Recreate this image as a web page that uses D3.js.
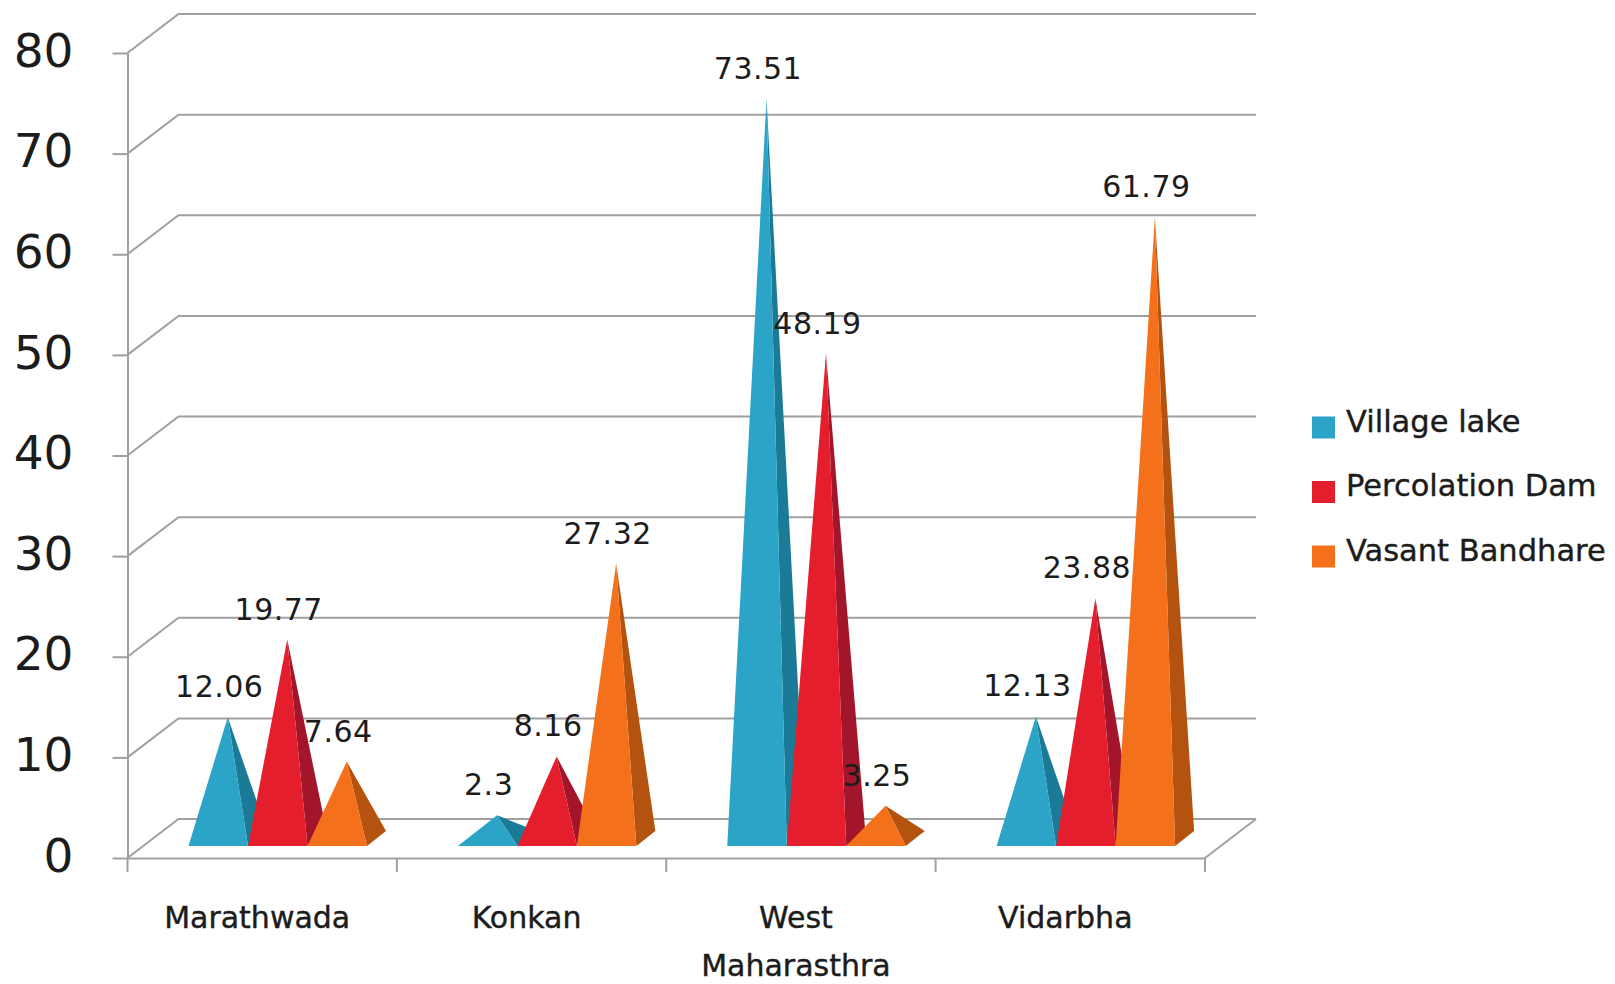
<!DOCTYPE html>
<html>
<head>
<meta charset="utf-8">
<script src="https://cdn.jsdelivr.net/npm/d3@7"></script>
<style>
  html, body { margin: 0; padding: 0; background: #fff; }
  svg { display: block; }
  text { font-family: "DejaVu Sans", sans-serif; fill: #1c1c1c; }
  .heavy { stroke: #1c1c1c; stroke-width: 0.4px; }
</style>
</head>
<body>
<svg id="chart"></svg>
<script>
// Data
const categories = ["Marathwada", "Konkan", "West", "Vidarbha"];
const seriesNames = ["Village lake", "Percolation Dam", "Vasant Bandhare"];
const villageLake = [12.06, 2.3, 73.51, 12.13];
const percolationDam = [19.77, 8.16, 48.19, 23.88];
const vasantBandhare = [7.64, 27.32, 3.25, 61.79];
const yTicks = [0, 10, 20, 30, 40, 50, 60, 70, 80];
const axisTitle = "Maharasthra";

const seriesValues = [villageLake, percolationDam, vasantBandhare];
const frontColors = ["#2ba4c7", "#e41e2d", "#f5701a"];
const sideColors = ["#1b7b97", "#a3152a", "#b4530f"];

const width = 1615, height = 984;
const plot = { left: 127.5, right: 1205, top: 53, bottom: 858 };
const depth = { dx: 51, dy: -39 };      // offset of the back wall
const inset = { front: 12, dx: 19, dy: -15 }; // where the pyramids sit on the floor

const svg = d3.select("#chart").attr("width", width).attr("height", height);

// Scales
const x = d3.scaleBand().domain(categories).range([plot.left, plot.right]);
const y = d3.scaleLinear().domain([0, 80]).range([plot.bottom, plot.top]);
const xSeries = d3.scaleBand().domain(seriesNames)
  .range([61, 61 + 178.5]);

// Walls and grid lines
const grid = svg.append("g")
  .attr("fill", "none")
  .attr("stroke", "#a0a0a0")
  .attr("stroke-width", 2);

yTicks.forEach(t => {
  const py = y(t);
  grid.append("polyline")
    .attr("points", [
      [plot.left, py],
      [plot.left + depth.dx, py + depth.dy],
      [plot.right + depth.dx, py + depth.dy]
    ].join(" "));
});

// Floor edge on the right
grid.append("polyline")
  .attr("points", [
    [plot.right, plot.bottom],
    [plot.right + depth.dx, plot.bottom + depth.dy]
  ].join(" "));

// Axes
const yAxis = svg.append("g")
  .attr("transform", `translate(${plot.left},0)`)
  .call(d3.axisLeft(y).tickValues(yTicks).tickSize(15).tickSizeOuter(0).tickPadding(39));

const xAxis = svg.append("g")
  .attr("transform", `translate(0,${plot.bottom})`)
  .call(d3.axisBottom(x).tickSize(0).tickFormat(""));

xAxis.selectAll(".tick").remove();
[...categories.map(c => x(c)), plot.right].forEach(px => {
  xAxis.append("line")
    .attr("x1", px).attr("x2", px)
    .attr("y1", 0).attr("y2", 14);
});

svg.selectAll(".domain, .tick line, g line")
  .attr("stroke", "#a0a0a0")
  .attr("stroke-width", 2);

yAxis.selectAll(".tick text")
  .attr("dy", "0.28em")
  .style("font-size", "47px")
  .attr("fill", "#1c1c1c");

// Category labels and axis title
svg.append("g").selectAll("text")
  .data(categories)
  .join("text")
  .attr("class", "heavy")
  .attr("x", d => x(d) + x.bandwidth() / 2 - 5)
  .attr("y", 928)
  .attr("text-anchor", "middle")
  .style("font-size", "30px")
  .text(d => d);

svg.append("text")
  .attr("class", "heavy")
  .attr("x", x("West") + x.bandwidth() / 2 - 5)
  .attr("y", 976)
  .attr("text-anchor", "middle")
  .style("font-size", "30px")
  .text(axisTitle);

// One pyramid per value
const rows = [];
categories.forEach((c, ci) => {
  seriesNames.forEach((s, si) => {
    const left = x(c) + xSeries(s);
    const right = left + xSeries.bandwidth();
    const base = plot.bottom - inset.front;
    const value = seriesValues[si][ci];
    rows.push({
      si, value,
      frontLeft: [left, base],
      frontRight: [right, base],
      backRight: [right + inset.dx, base + inset.dy],
      apex: [(left + right) / 2 + inset.dx / 2,
             base + inset.dy / 2 - (y(0) - y(value))]
    });
  });
});

const pyramids = svg.append("g").selectAll("g")
  .data(rows)
  .join("g");

pyramids.append("polygon")
  .attr("points", d => [d.frontRight, d.backRight, d.apex].join(" "))
  .attr("fill", d => sideColors[d.si]);

pyramids.append("polygon")
  .attr("points", d => [d.frontLeft, d.frontRight, d.apex].join(" "))
  .attr("fill", d => frontColors[d.si]);

// Value labels
svg.append("g").selectAll("text")
  .data(rows)
  .join("text")
  .attr("x", d => d.apex[0] - 8.5)
  .attr("y", d => d.apex[1] - 20)
  .attr("text-anchor", "middle")
  .style("font-size", "30px")
  .style("letter-spacing", "0.5px")
  .text(d => d.value);

// Legend
const legendY = d3.scalePoint().domain(seriesNames).range([427.5, 556.5]);
const legend = svg.append("g").selectAll("g")
  .data(seriesNames)
  .join("g")
  .attr("transform", d => `translate(1312,${legendY(d)})`);

legend.append("rect")
  .attr("y", -11)
  .attr("width", 23)
  .attr("height", 22)
  .attr("fill", (d, i) => frontColors[i]);

legend.append("text")
  .attr("class", "heavy")
  .attr("x", 34)
  .attr("y", 4)
  .style("font-size", "30.5px")
  .text(d => d);
</script>
</body>
</html>
